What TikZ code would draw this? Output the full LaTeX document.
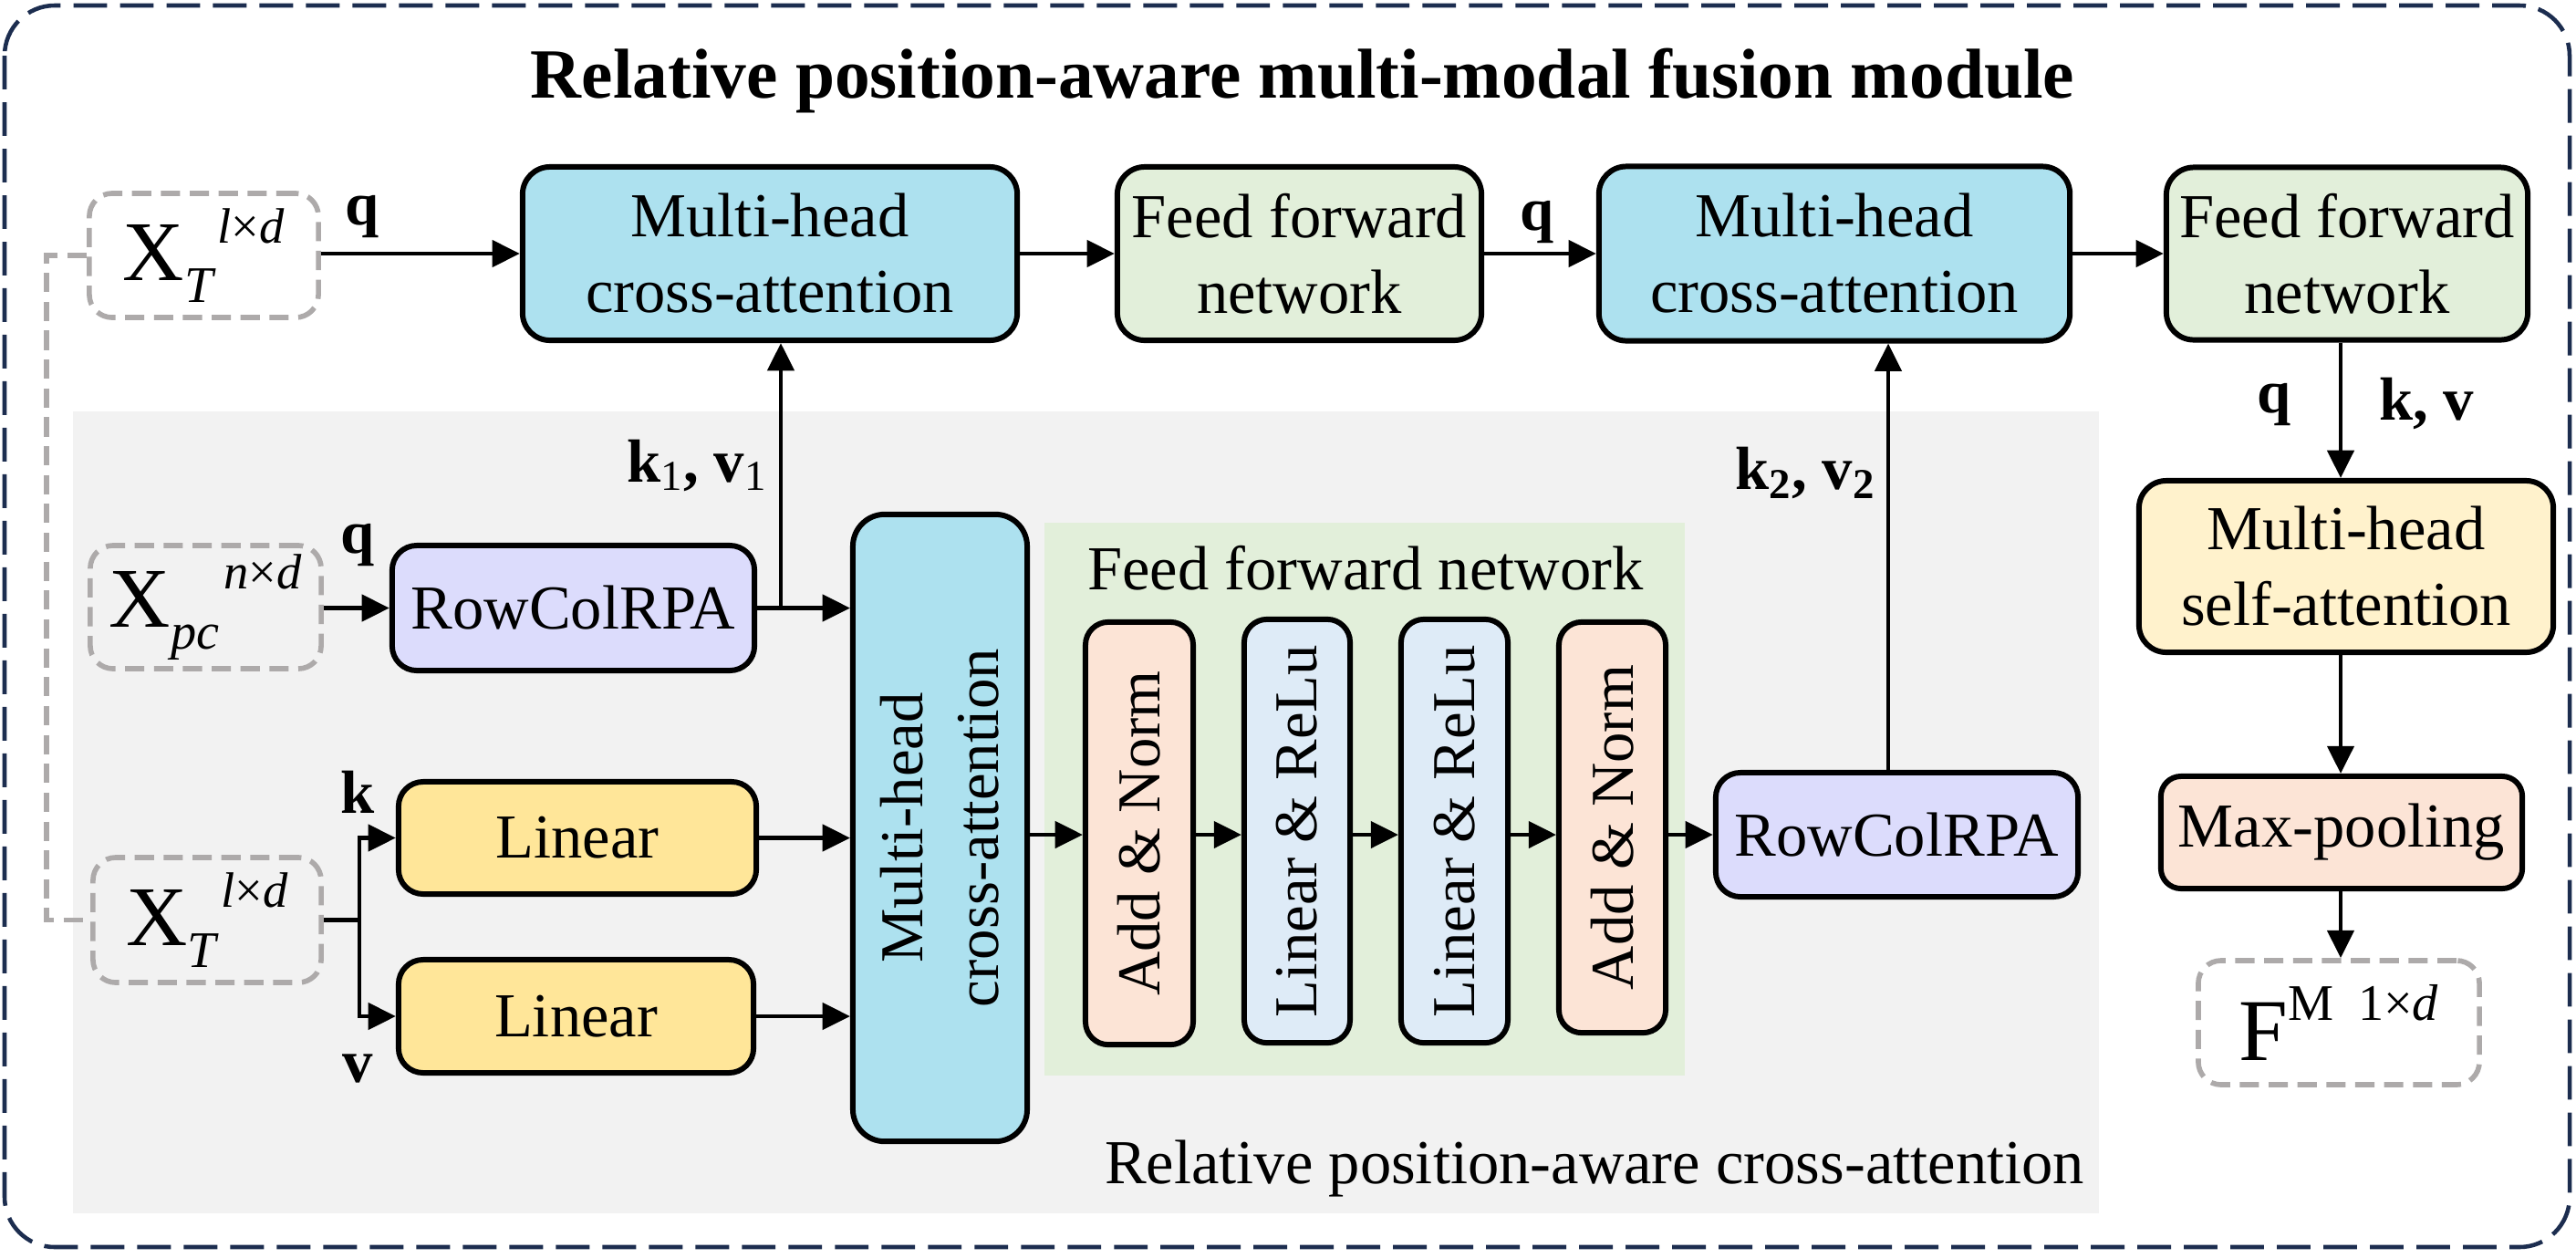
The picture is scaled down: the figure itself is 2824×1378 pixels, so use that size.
\documentclass[tikz,border=0pt]{standalone}
\usepackage{fontspec}
\setmainfont{Liberation Serif}
\usetikzlibrary{arrows.meta}
\definecolor{navy}{HTML}{1C2D4F}
\definecolor{cblue}{HTML}{ADE1EF}
\definecolor{cgreen}{HTML}{E2EFDA}
\definecolor{clav}{HTML}{DCDCFC}
\definecolor{cpeach}{HTML}{FCE4D6}
\definecolor{clblue}{HTML}{DEEBF7}
\definecolor{cyel}{HTML}{FFE699}
\definecolor{clyel}{HTML}{FFF2CC}
\definecolor{cpanel}{HTML}{F2F2F2}
\definecolor{cdash}{HTML}{ADAAAA}
\newcommand{\fbody}{\fontsize{19.5pt}{23.6pt}\selectfont}
\newcommand{\frot}{\fontsize{19pt}{23.6pt}\selectfont}
\newcommand{\flab}{\fontsize{19pt}{23pt}\selectfont\bfseries}
\newcommand{\dvar}[3]{{\fontsize{26.5pt}{26.5pt}\selectfont #1}\raisebox{-6.8pt}{\fontsize{16pt}{16pt}\selectfont\itshape #2}\hspace{1.5pt}\raisebox{11.8pt}{\fontsize{15.5pt}{15.5pt}\selectfont #3}}
\begin{document}
\begin{tikzpicture}[x=0.01cm,y=-0.01cm,
  box/.style={draw=black, line width=1.7pt, rounded corners=0.3cm, inner sep=0pt, align=center, font=\fbody},
  rbox/.style={box, rotate=90, font=\frot, rounded corners=0.25cm},
  dbox/.style={draw=cdash, line width=1.6pt, dash pattern=on 6pt off 3pt, rounded corners=0.25cm, inner sep=0pt, align=center},
  gdash/.style={draw=cdash, line width=1.5pt, dash pattern=on 6pt off 3pt},
  arr/.style={line width=1.4pt, -{Triangle[length=8.6pt,width=8.2pt]}},
  ln/.style={line width=1.4pt},
  lab/.style={font=\flab, inner sep=0pt},
]
\useasboundingbox (0,0) rectangle (2824,1378);
\fill[white] (0,0) rectangle (2824,1378);
% outer frame
\draw[navy, line width=1.3pt, dash pattern=on 10.5pt off 4pt, rounded corners=0.55cm] (5,6) rectangle (2817,1367);
% panels
\fill[cpanel] (80,451) rectangle (2301,1330);
\fill[cgreen] (1145,573) rectangle (1847,1179);
% title and panel labels
\node[font=\fontsize{22pt}{26pt}\selectfont\bfseries, anchor=base, inner sep=0pt] (title) at (1428,107) {Relative position-aware multi-modal fusion module};
\node[font=\fbody, anchor=base, inner sep=0pt] (ffnlab) at (1497,646) {Feed forward network};
\node[font=\fbody, anchor=base, inner sep=0pt] (rpalab) at (1748,1297) {Relative position-aware cross-attention};
% top row
\node[box, fill=cblue, minimum width=5.42cm, minimum height=1.90cm] (mhca1) at (844,278) {Multi-head\\cross-attention};
\node[box, fill=cgreen, minimum width=3.99cm, minimum height=1.90cm] (ffn1) at (1424.5,278) {Feed forward\\network};
\node[box, fill=cblue, minimum width=5.16cm, minimum height=1.91cm] (mhca2) at (2011,278) {Multi-head\\cross-attention};
\node[box, fill=cgreen, minimum width=3.96cm, minimum height=1.89cm] (ffn2) at (2573,278) {Feed forward\\network};
% right column
\node[box, fill=clyel, minimum width=4.54cm, minimum height=1.88cm] (mhsa) at (2572,621) {Multi-head\\self-attention};
\node[box, fill=cpeach, minimum width=3.96cm, minimum height=1.23cm, rounded corners=0.22cm] (maxp) at (2567,912.5) {Max-pooling};
\node[dbox, minimum width=3.08cm, minimum height=1.36cm] (fm) at (2564,1121) {{\fontsize{27.5pt}{27.5pt}\selectfont F}\raisebox{12.5pt}{\fontsize{16pt}{16pt}\selectfont M\hspace{7.5pt}1×\textit{d}}};
% inputs
\node[dbox, minimum width=2.51cm, minimum height=1.36cm] (xt1) at (223.5,280) {\dvar{X}{T}{\textit{l}×\textit{d}}};
\node[dbox, minimum width=2.53cm, minimum height=1.35cm] (xpc) at (225.5,665.5) {\dvar{X}{pc}{\textit{n}×\textit{d}}};
\node[dbox, minimum width=2.50cm, minimum height=1.37cm] (xt2) at (227,1008.5) {\dvar{X}{T}{\textit{l}×\textit{d}}};
% inner panel
\node[box, fill=clav, minimum width=3.97cm, minimum height=1.37cm, rounded corners=0.27cm] (rcr1) at (628.5,666.5) {RowColRPA};
\node[box, fill=cyel, minimum width=3.92cm, minimum height=1.23cm, rounded corners=0.27cm] (lin1) at (633,918.5) {Linear};
\node[box, fill=cyel, minimum width=3.89cm, minimum height=1.24cm, rounded corners=0.27cm] (lin2) at (631.5,1114) {Linear};
\node[rbox, fill=cblue, minimum width=6.87cm, minimum height=1.91cm, rounded corners=0.35cm] (mhca3) at (1030.5,907.5) {Multi-head\\cross-attention};
\node[rbox, fill=cpeach, minimum width=4.63cm, minimum height=1.18cm] (an1) at (1249,913.5) {Add \& Norm};
\node[rbox, fill=clblue, minimum width=4.64cm, minimum height=1.16cm] (lr1) at (1422,911) {Linear \& ReLu};
\node[rbox, fill=clblue, minimum width=4.64cm, minimum height=1.17cm] (lr2) at (1594.5,911) {Linear \& ReLu};
\node[rbox, fill=cpeach, minimum width=4.50cm, minimum height=1.17cm] (an2) at (1767.5,907) {Add \& Norm};
\node[box, fill=clav, minimum width=3.97cm, minimum height=1.36cm, rounded corners=0.27cm] (rcr2) at (2079.5,915) {RowColRPA};
% labels
\node[lab] (lq1) at (397,238) {q};
\node[lab] (lq2) at (1685,244) {q};
\node[lab] (lq3) at (392,598) {q};
\node[lab, anchor=east] (lkv1) at (842,510) {k\textsubscript{\mdseries 1}, v\textsubscript{\mdseries 1}};
\node[lab, anchor=east] (lkv2) at (2057,518) {k\textsubscript{2}, v\textsubscript{2}};
\node[lab] (lq4) at (2493,444) {q};
\node[lab] (lkv) at (2660,442) {k, v};
\node[lab] (lk) at (392,868) {k};
\node[lab] (lv) at (392,1171) {v};
% helper coordinates
\coordinate (cx2566) at (2566,0);
\coordinate (cx2070) at (2070,0);
\coordinate (cy915) at (0,915);
\coordinate (b1) at (856,0);
\coordinate (sp) at (394,0);
\coordinate (gx) at (51,0);
% connectors
\draw[arr] (xt1.east |- mhca1.west) -- (mhca1.west);
\draw[arr] (mhca1) -- (ffn1);
\draw[arr] (ffn1) -- (mhca2);
\draw[arr] (mhca2) -- (ffn2);
\draw[arr] (ffn2.south -| cx2566) -- (mhsa.north -| cx2566);
\draw[arr] (mhsa.south -| cx2566) -- (maxp.north -| cx2566);
\draw[arr] (maxp.south -| cx2566) -- (fm.north -| cx2566);
\draw[arr] (xpc.east |- rcr1.west) -- (rcr1.west);
\draw[arr] (rcr1.east) -- (mhca3.north |- rcr1.east);
\draw[arr] (rcr1.east -| b1) -- (b1 |- mhca1.south);
\draw[ln] (xt2.east) -- (xt2.east -| sp);
\draw[arr] (xt2.east -| sp) |- (lin1.west);
\draw[arr] (xt2.east -| sp) |- (lin2.west);
\draw[arr] (lin1.east) -- (mhca3.north |- lin1.east);
\draw[arr] (lin2.east) -- (mhca3.north |- lin2.east);
\draw[arr] (mhca3.south |- cy915) -- (an1.north |- cy915);
\draw[arr] (an1.south |- cy915) -- (lr1.north |- cy915);
\draw[arr] (lr1.south |- cy915) -- (lr2.north |- cy915);
\draw[arr] (lr2.south |- cy915) -- (an2.north |- cy915);
\draw[arr] (an2.south |- cy915) -- (rcr2.west |- cy915);
\draw[arr] (rcr2.north -| cx2070) -- (mhca2.south -| cx2070);
\draw[gdash] (xt1.west) -- (xt1.west -| gx) |- (xt2.west);
\end{tikzpicture}
\end{document}
